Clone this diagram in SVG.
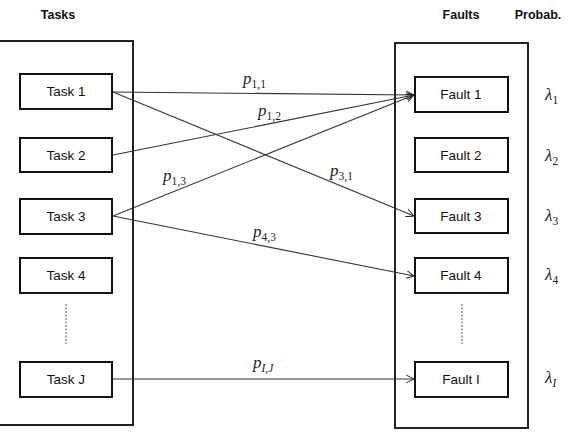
<svg xmlns="http://www.w3.org/2000/svg" width="574" height="434" viewBox="0 0 574 434">
<defs>
<marker id="arr" viewBox="0 0 10 10" refX="10" refY="5" markerWidth="8" markerHeight="8" markerUnits="userSpaceOnUse" orient="auto">
<path d="M0,0 L10,5 L0,10" fill="none" stroke="#222" stroke-width="1.2"/>
</marker>
<style>
.outer{fill:#fff;stroke:#222;stroke-width:2}
.box{fill:#fff;stroke:#111;stroke-width:2}
.lbl{font-family:"Liberation Sans",Arial,sans-serif;font-size:13.5px;fill:#111;text-anchor:middle}
.hdr{font-family:"Liberation Sans",Arial,sans-serif;font-size:12.5px;font-weight:bold;fill:#111;text-anchor:middle}
.math{font-family:"Liberation Serif","Times New Roman",serif;font-size:17px;fill:#222}
.it{font-style:italic}
.sub{font-size:11.5px}
.conn{stroke:#333;stroke-width:1.1;fill:none;marker-end:url(#arr)}
.dash{stroke:#555;stroke-width:1;stroke-dasharray:2,1.5}
</style>
</defs>
<rect width="574" height="434" fill="#fff"/>
<g id="headers">
<text class="hdr" x="58" y="19">Tasks</text>
<text class="hdr" x="461" y="19">Faults</text>
<text class="hdr" x="538" y="19">Probab.</text>
</g>
<g id="tasks-container"><rect class="outer" x="-1" y="41" width="134" height="384"/></g>
<g id="faults-container"><rect class="outer" x="395" y="43" width="133" height="385"/></g>
<g id="task1"><rect class="box" x="20" y="74" width="92" height="35"/><text class="lbl" x="66" y="96">Task 1</text></g>
<g id="task2"><rect class="box" x="20" y="138" width="92" height="34"/><text class="lbl" x="66" y="160">Task 2</text></g>
<g id="task3"><rect class="box" x="20" y="199" width="92" height="35"/><text class="lbl" x="66" y="221">Task 3</text></g>
<g id="task4"><rect class="box" x="20" y="258" width="92" height="35"/><text class="lbl" x="66" y="280">Task 4</text></g>
<g id="taskdots"><line class="dash" x1="66" y1="304" x2="66" y2="344"/></g>
<g id="taskJ"><rect class="box" x="20" y="362" width="92" height="35"/><text class="lbl" x="66" y="384">Task J</text></g>
<g id="fault1"><rect class="box" x="415" y="77" width="93" height="35"/><text class="lbl" x="461" y="99">Fault 1</text></g>
<g id="fault2"><rect class="box" x="415" y="138" width="93" height="34"/><text class="lbl" x="461" y="160">Fault 2</text></g>
<g id="fault3"><rect class="box" x="415" y="199" width="93" height="34"/><text class="lbl" x="461" y="221">Fault 3</text></g>
<g id="fault4"><rect class="box" x="415" y="258" width="93" height="35"/><text class="lbl" x="461" y="280">Fault 4</text></g>
<g id="faultdots"><line class="dash" x1="462" y1="304" x2="462" y2="344"/></g>
<g id="faultI"><rect class="box" x="415" y="362" width="93" height="35"/><text class="lbl" x="461" y="384">Fault I</text></g>
<g id="probs">
<text class="math" x="545" y="100"><tspan class="it">λ</tspan><tspan class="sub" dy="4">1</tspan></text>
<text class="math" x="545" y="161"><tspan class="it">λ</tspan><tspan class="sub" dy="4">2</tspan></text>
<text class="math" x="545" y="221"><tspan class="it">λ</tspan><tspan class="sub" dy="4">3</tspan></text>
<text class="math" x="545" y="280"><tspan class="it">λ</tspan><tspan class="sub" dy="4">4</tspan></text>
<text class="math" x="545" y="383"><tspan class="it">λ</tspan><tspan class="sub it" dy="4">I</tspan></text>
</g>
<g id="connectors">
<line class="conn" x1="113" y1="92" x2="414" y2="95"/>
<line class="conn" x1="113" y1="92" x2="414" y2="216"/>
<line class="conn" x1="113" y1="155" x2="414" y2="95"/>
<line class="conn" x1="113" y1="216" x2="414" y2="95"/>
<line class="conn" x1="113" y1="216" x2="414" y2="276"/>
<line class="conn" x1="113" y1="379" x2="414" y2="379"/>
</g>
<g id="edge-labels">
<text class="math" x="243" y="84"><tspan class="it">p</tspan><tspan class="sub" dy="4">1,1</tspan></text>
<text class="math" x="258" y="116"><tspan class="it">p</tspan><tspan class="sub" dy="4">1,2</tspan></text>
<text class="math" x="163" y="181"><tspan class="it">p</tspan><tspan class="sub" dy="4">1,3</tspan></text>
<text class="math" x="330" y="176"><tspan class="it">p</tspan><tspan class="sub" dy="4">3,1</tspan></text>
<text class="math" x="253" y="237"><tspan class="it">p</tspan><tspan class="sub" dy="4">4,3</tspan></text>
<text class="math" x="253" y="368"><tspan class="it">p</tspan><tspan class="sub it" dy="4">I,J</tspan></text>
</g>
</svg>
